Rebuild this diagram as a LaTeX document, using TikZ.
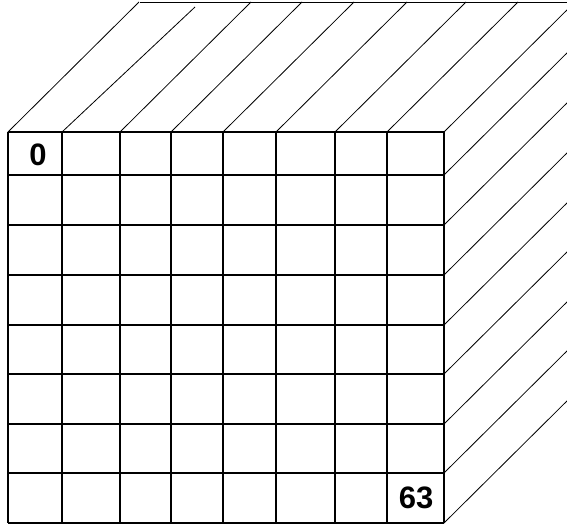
\documentclass[tikz,border=0pt]{standalone}
\usepackage{fontspec}
\setmainfont{Liberation Sans}

\begin{document}
\begin{tikzpicture}[x=1pt, y=-1pt,
    gridline/.style={line width=1.6pt},
    slant/.style={line width=0.8pt},
    cellnum/.style={font=\bfseries\fontsize{31}{31}\selectfont, inner sep=0pt}]
  \useasboundingbox (0,0) rectangle (567,525);
  \clip (0,0) rectangle (567,525);
  % top face
  \draw[slant] (140,2) -- (567,2);
  \foreach \x in {8,120,171,223,276,335,387,444}
    \draw[slant] (\x,132) -- ++(131,-130);
  \draw[slant] (62,132) -- (195,7);
  % right face
  \foreach \y in {175,225,275,325,374,424,473,523}
    \draw[slant] (444,\y) -- ++(131,-130);
  % front face
  \foreach \x in {8,62,120,171,223,276,335,387,444}
    \draw[gridline] (\x,132) -- (\x,523);
  \foreach \y in {132,175,225,275,325,374,424,473,523}
    \draw[gridline] (8,\y) -- (444,\y);
  \node[cellnum] (first) at (38,155) {0};
  \node[cellnum] (last) at (416,498) {63};
\end{tikzpicture}
\end{document}
